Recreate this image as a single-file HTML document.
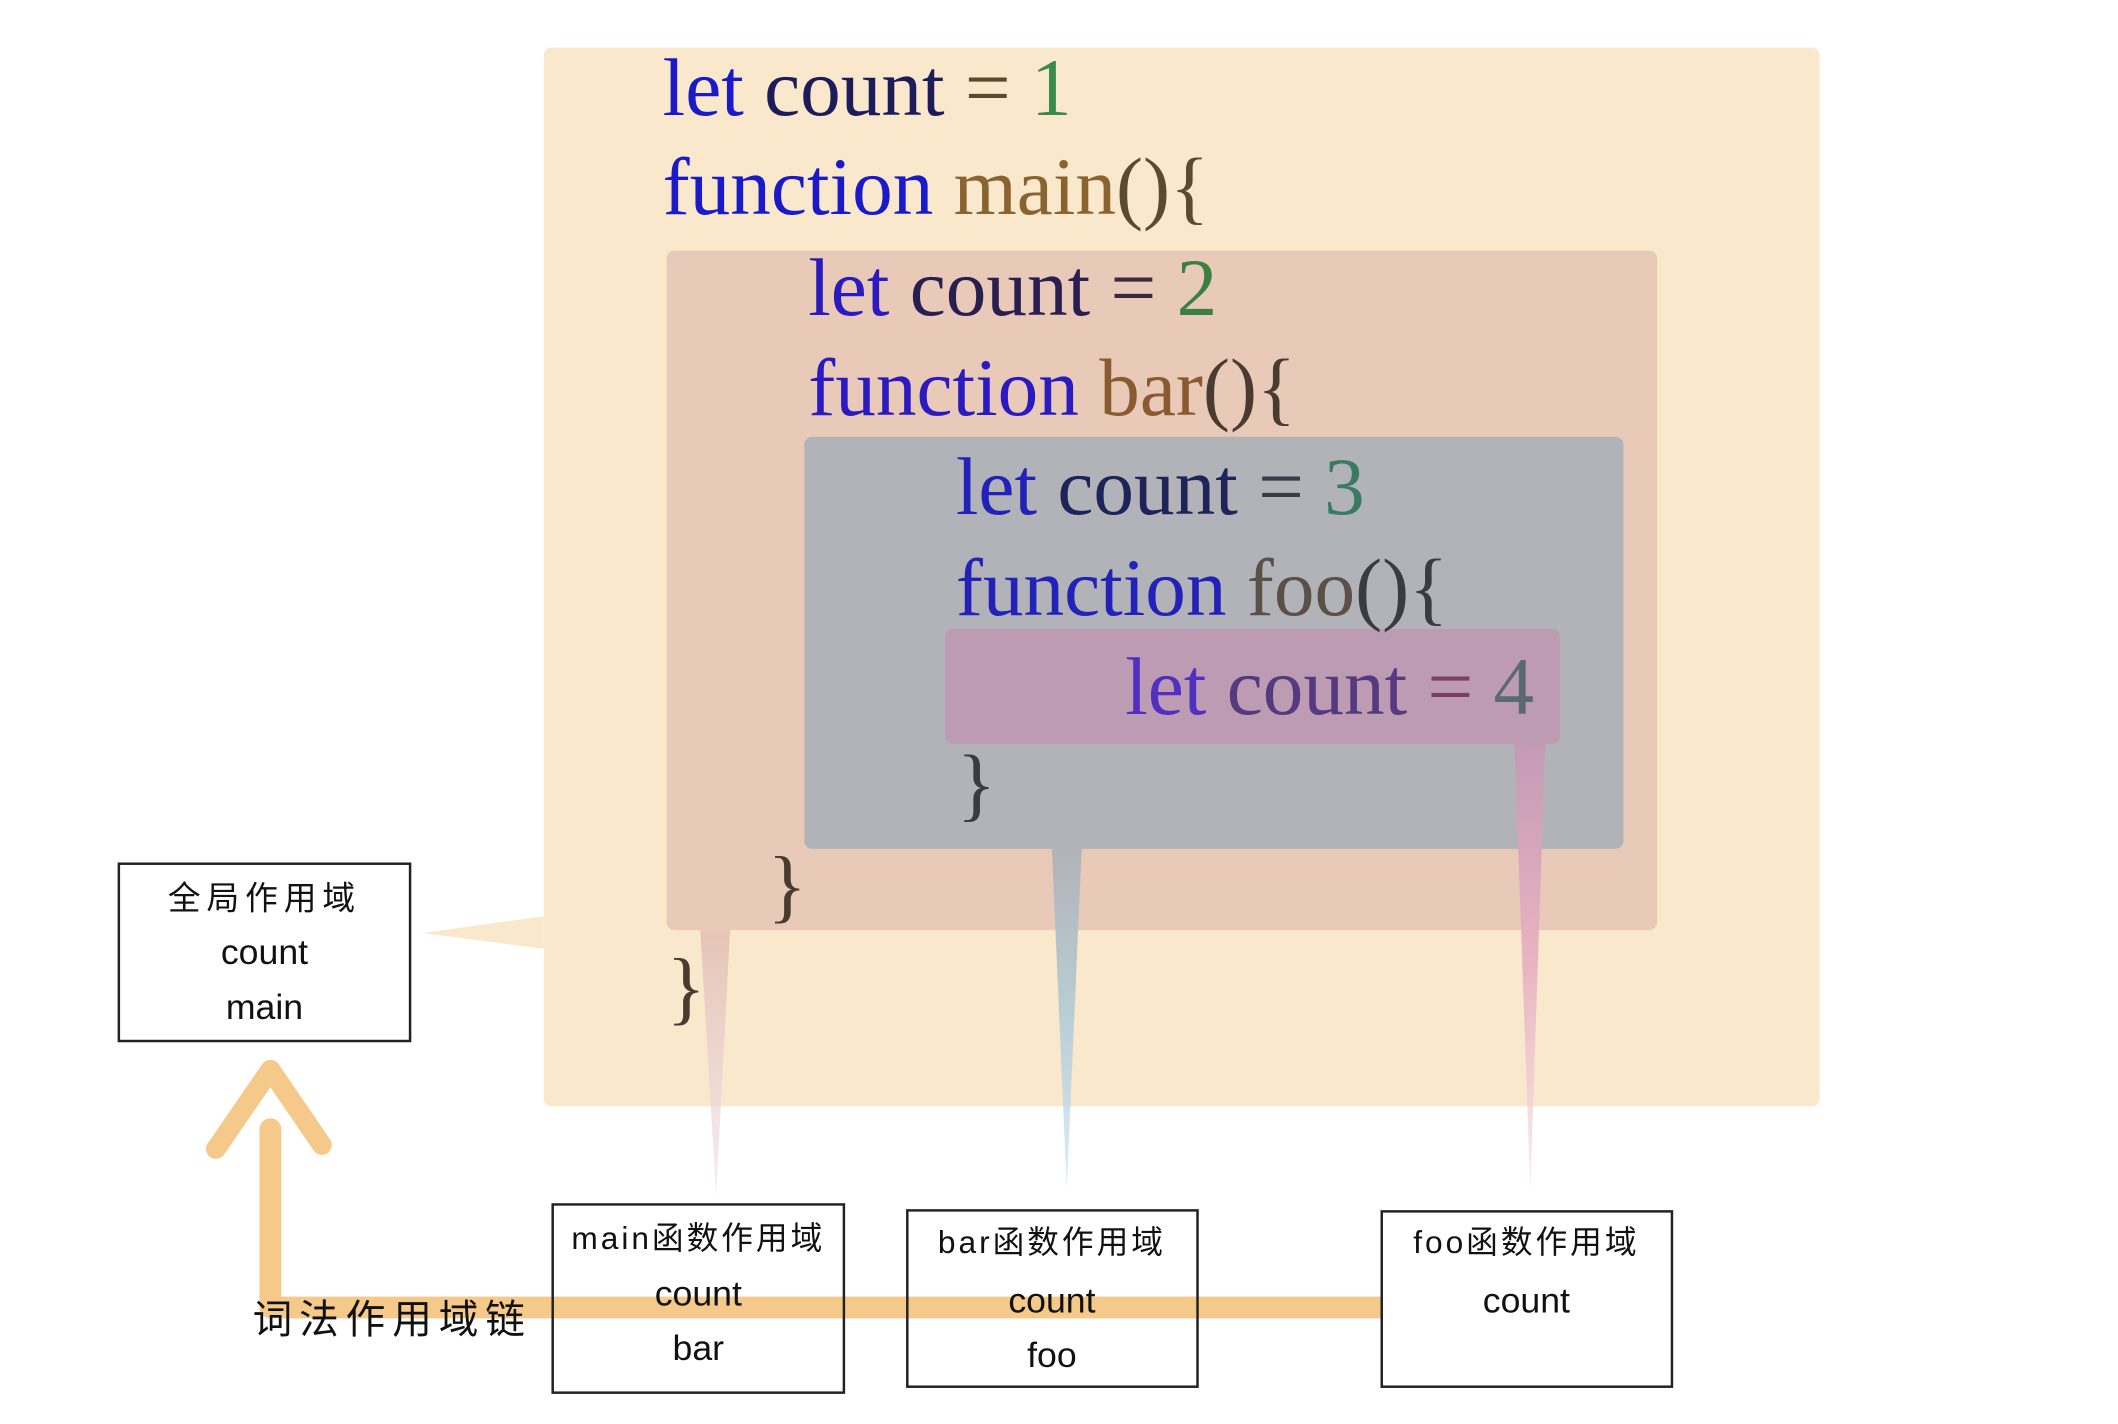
<!DOCTYPE html>
<html><head><meta charset="utf-8"><style>
html,body{margin:0;padding:0;background:#fff;}
svg{display:block}
.c{font-family:"Liberation Serif",serif;font-size:82px}
.h{font-family:"Liberation Sans","Noto Sans CJK SC",sans-serif;fill:#111}
</style></head><body>
<svg width="2118" height="1424" viewBox="0 0 2118 1424" xmlns="http://www.w3.org/2000/svg">
<defs>
<linearGradient id="gr" x1="0" y1="0" x2="0" y2="1"><stop offset="0" stop-color="#e6c4b6"/><stop offset="1" stop-color="#efe0ec" stop-opacity="0.6"/></linearGradient>
<linearGradient id="gg" x1="0" y1="0" x2="0" y2="1"><stop offset="0" stop-color="#b2b3b8"/><stop offset="0.5" stop-color="#b8cfd6"/><stop offset="1" stop-color="#c6e0f4" stop-opacity="0.6"/></linearGradient>
<linearGradient id="gp" x1="0" y1="0" x2="0" y2="1"><stop offset="0" stop-color="#c39ab6"/><stop offset="0.5" stop-color="#eab4c2"/><stop offset="1" stop-color="#f5dde4" stop-opacity="0.6"/></linearGradient>
</defs>
<g transform="scale(0.9905)">
<rect x="549" y="48" width="1288" height="1069" rx="8" fill="#fae8cc"/>
<polygon points="549,925 427,942 549,958" fill="#fae8cc"/>
<rect x="673" y="253" width="1000" height="686" rx="8" fill="#e9c9b8"/>
<polygon points="707,939 737,939 723,1208" fill="url(#gr)"/>
<rect x="812" y="441" width="827" height="416" rx="8" fill="#b2b3b8"/>
<polygon points="1062,857 1092,857 1077,1201" fill="url(#gg)"/>
<rect x="954" y="635" width="621" height="116" rx="8" fill="#bd9bb3"/>
<polygon points="1529,751 1560,751 1545,1201" fill="url(#gp)"/>

<text class="c" x="669" y="116"><tspan fill="#1a1ac8">let </tspan><tspan fill="#1c1c5a">count </tspan><tspan fill="#5a4a2a">= </tspan><tspan fill="#3a8a4a">1</tspan></text>
<text class="c" x="669" y="216"><tspan fill="#1a1ac8">function </tspan><tspan fill="#8a6430">main</tspan><tspan fill="#5a4a30">(){</tspan></text>
<text class="c" x="816" y="318"><tspan fill="#2a1ac0">let </tspan><tspan fill="#2a1e50">count </tspan><tspan fill="#3a2a3a">= </tspan><tspan fill="#3a8040">2</tspan></text>
<text class="c" x="816" y="419"><tspan fill="#2a1ac0">function </tspan><tspan fill="#8a5a30">bar</tspan><tspan fill="#4a3a30">(){</tspan></text>
<text class="c" x="965" y="519"><tspan fill="#2222b8">let </tspan><tspan fill="#1e2458">count </tspan><tspan fill="#3a3a48">= </tspan><tspan fill="#3a7a60">3</tspan></text>
<text class="c" x="965" y="621"><tspan fill="#2222b8">function </tspan><tspan fill="#5a5048">foo</tspan><tspan fill="#3a3a40">(){</tspan></text>
<text class="c" x="1136" y="721"><tspan fill="#5030c0">let </tspan><tspan fill="#553a80">count </tspan><tspan fill="#7a4060">= </tspan><tspan fill="#5a6a70">4</tspan></text>
<text class="c" x="966" y="819" fill="#3a3a40">}</text>
<text class="c" x="775" y="921" fill="#4a3a30">}</text>
<text class="c" x="673" y="1024" fill="#4a3a30">}</text>

<path d="M273 1320 L1399 1320" stroke="#f5c98a" stroke-width="22" stroke-linecap="round" fill="none"/>
<path d="M273 1320 L273 1140" stroke="#f5c98a" stroke-width="22" stroke-linecap="round" fill="none"/>
<path d="M218 1160 L273 1080 L325 1156" stroke="#f5c98a" stroke-width="20" stroke-linecap="round" stroke-linejoin="round" fill="none"/>

<rect x="120" y="872" width="294" height="179" fill="#fff" stroke="#222" stroke-width="2.5"/>
<text class="h" x="267" y="918" font-size="33" letter-spacing="6" text-anchor="middle">全局作用域</text>
<text class="h" x="267" y="973" font-size="36" text-anchor="middle">count</text>
<text class="h" x="267" y="1029" font-size="36" text-anchor="middle">main</text>

<rect x="558" y="1216" width="294" height="190" fill="none" stroke="#222" stroke-width="2.5"/>
<text class="h" x="705" y="1261" font-size="32" letter-spacing="3" text-anchor="middle">main函数作用域</text>
<text class="h" x="705" y="1318" font-size="36" text-anchor="middle">count</text>
<text class="h" x="705" y="1373" font-size="36" text-anchor="middle">bar</text>

<rect x="916" y="1222" width="293" height="178" fill="none" stroke="#222" stroke-width="2.5"/>
<text class="h" x="1062" y="1265" font-size="32" letter-spacing="3" text-anchor="middle">bar函数作用域</text>
<text class="h" x="1062" y="1325" font-size="36" text-anchor="middle">count</text>
<text class="h" x="1062" y="1380" font-size="36" text-anchor="middle">foo</text>

<rect x="1395" y="1223" width="293" height="177" fill="#fff" stroke="#222" stroke-width="2.5"/>
<text class="h" x="1541" y="1265" font-size="32" letter-spacing="3" text-anchor="middle">foo函数作用域</text>
<text class="h" x="1541" y="1325" font-size="36" text-anchor="middle">count</text>

<text class="h" x="255" y="1346" font-size="40" letter-spacing="7">词法作用域链</text>
</g>
</svg>
</body></html>
